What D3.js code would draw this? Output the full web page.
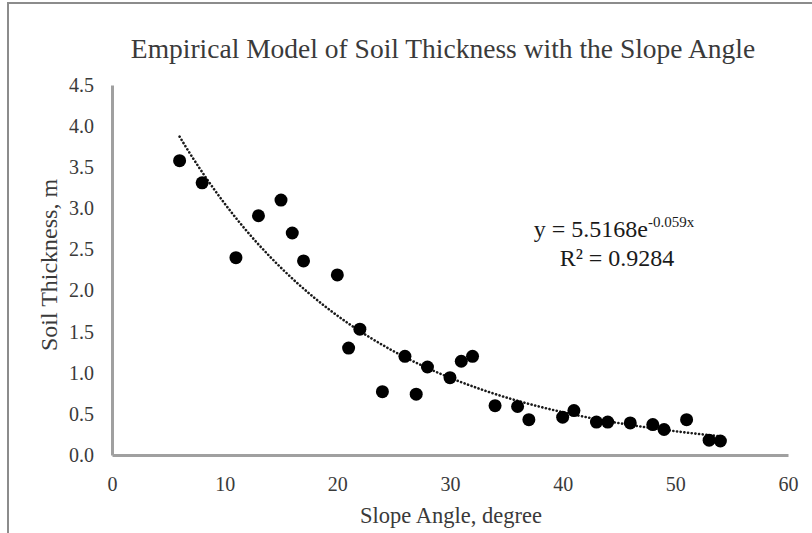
<!DOCTYPE html>
<html>
<head>
<meta charset="utf-8">
<script src="https://cdn.jsdelivr.net/npm/d3@7"></script>
<style>
  body { margin: 0; background: #fff; }
  svg { display: block; font-family: "Liberation Serif", "DejaVu Serif", serif; }
</style>
</head>
<body>
<div id="chart"></div>
<script>
// Data
const slopeAngle = [6, 8, 11, 13, 15, 16, 17, 20, 21, 22, 24, 26, 27, 28, 30,
  31, 32, 34, 36, 37, 40, 41, 43, 44, 46, 48, 49, 51, 53, 54];
const soilThickness = [3.58, 3.31, 2.40, 2.91, 3.10, 2.70, 2.36, 2.19, 1.30, 1.53, 0.77, 1.20, 0.74, 1.07, 0.94,
  1.14, 1.20, 0.60, 0.59, 0.43, 0.46, 0.54, 0.40, 0.40, 0.39, 0.37, 0.31, 0.43, 0.18, 0.17];
const xTicks = [0, 10, 20, 30, 40, 50, 60];
const yTicks = [0, 0.5, 1, 1.5, 2, 2.5, 3, 3.5, 4, 4.5];

// fitted model shown on the chart
const fitA = 5.5168;
const fitB = -0.059;

const width = 812;
const height = 533;

const svg = d3.select("#chart").append("svg")
  .attr("width", width)
  .attr("height", height);

// frame (only top and left edges show)
svg.append("path")
  .attr("d", `M8,${height} V3 H${width}`)
  .attr("fill", "none")
  .attr("stroke", "#8c8c8c")
  .attr("stroke-width", 2);

const x = d3.scaleLinear().domain([0, 60]).range([112, 788]);
const y = d3.scaleLinear().domain([0, 4.5]).range([455, 85]);

// axes
const xAxis = svg.append("g")
  .attr("transform", `translate(0,${y(0)})`)
  .call(d3.axisBottom(x).tickValues(xTicks).tickSize(0).tickPadding(22).tickFormat(d3.format("d")));
const yAxis = svg.append("g")
  .attr("transform", `translate(${x(0)},0)`)
  .call(d3.axisLeft(y).tickValues(yTicks).tickSize(0).tickPadding(18).tickFormat(d3.format(".1f")));

[xAxis, yAxis].forEach(g => {
  g.select(".domain").attr("stroke", "#a0a0a0").attr("stroke-width", 3);
  g.selectAll("text")
    .attr("font-family", "Liberation Serif, serif")
    .attr("font-size", 20)
    .attr("fill", "#3a3a3a");
});

// trendline
const fitX = d3.range(slopeAngle[0], slopeAngle[slopeAngle.length - 1] + 0.01, 0.25);
const line = d3.line()
  .x(d => x(d))
  .y(d => y(fitA * Math.exp(fitB * d)));

svg.append("path")
  .datum(fitX)
  .attr("d", line)
  .attr("fill", "none")
  .attr("stroke", "#1a1a1a")
  .attr("stroke-width", 2.6)
  .attr("stroke-linecap", "round")
  .attr("stroke-dasharray", "0.1 3.6");

// points
svg.append("g")
  .selectAll("circle")
  .data(slopeAngle)
  .join("circle")
  .attr("cx", d => x(d))
  .attr("cy", (d, i) => y(soilThickness[i]))
  .attr("r", 6.5)
  .attr("fill", "#000");

// title
svg.append("text")
  .attr("x", 443)
  .attr("y", 58)
  .attr("text-anchor", "middle")
  .attr("font-size", 27.5)
  .attr("fill", "#3a3a3a")
  .text("Empirical Model of Soil Thickness with the Slope Angle");

// axis titles
svg.append("text")
  .attr("x", 451)
  .attr("y", 523)
  .attr("text-anchor", "middle")
  .attr("font-size", 22.5)
  .attr("fill", "#3a3a3a")
  .text("Slope Angle, degree");

svg.append("text")
  .attr("transform", "translate(57,265) rotate(-90)")
  .attr("text-anchor", "middle")
  .attr("font-size", 24)
  .attr("fill", "#3a3a3a")
  .text("Soil Thickness, m");

// equation
const eq = svg.append("text")
  .attr("x", 614)
  .attr("y", 237)
  .attr("text-anchor", "middle")
  .attr("font-size", 24)
  .attr("fill", "#1a1a1a");
eq.append("tspan").text(`y = ${fitA}e`);
eq.append("tspan")
  .attr("font-size", 15)
  .attr("dy", -10)
  .text(`${fitB}x`);

svg.append("text")
  .attr("x", 617)
  .attr("y", 266)
  .attr("text-anchor", "middle")
  .attr("font-size", 24)
  .attr("fill", "#1a1a1a")
  .text("R² = 0.9284");
</script>
</body>
</html>
